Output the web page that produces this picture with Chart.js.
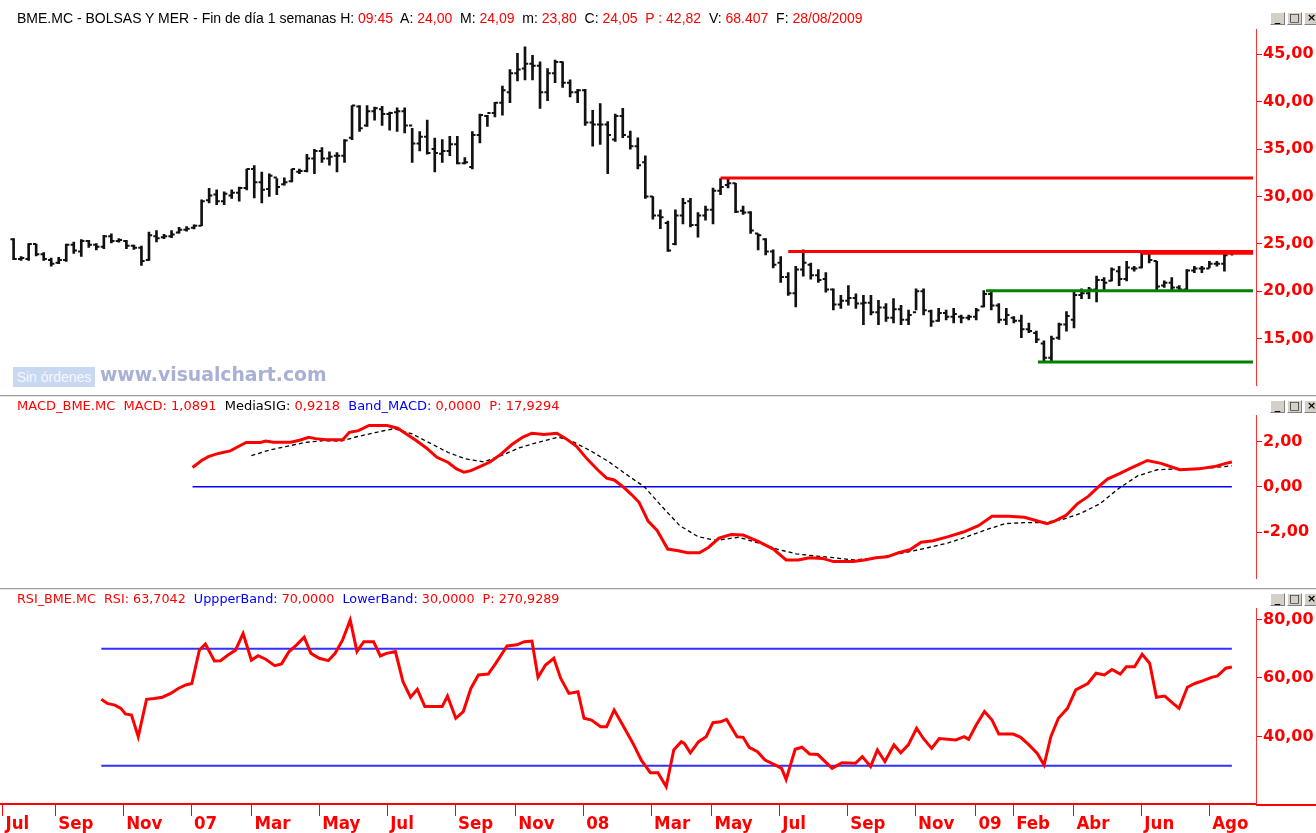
<!DOCTYPE html>
<html>
<head>
<meta charset="utf-8">
<script src="https://cdn.jsdelivr.net/npm/chart.js@4.4.0/dist/chart.umd.min.js"></script>
<style>
  body { margin:0; background:#fff; width:1316px; height:833px; overflow:hidden; position:relative; }
  canvas { position:absolute; left:0; }
  .hdr { position:absolute; left:17px; white-space:pre; color:#000; }
  .hdr.p { font:14px "Liberation Sans", Arial, sans-serif; top:10px; }
  .hdr.i { font:13px "DejaVu Sans", Verdana, sans-serif; }
  .r { color:#ff0000; } .b { color:#0000ff; }
  .sep { position:absolute; left:0; width:1316px; height:1px; background:#a0a0a0; border-bottom:1px solid #e4e4e4; }
  .win { position:absolute; left:1270px; width:60px; height:13px; white-space:nowrap; font-size:0; }
  .win span { display:inline-block; width:13px; height:11px; margin-right:2px; background:#d4d0c8; border:1px solid; border-color:#fff #808080 #808080 #fff;
              font:bold 11px "DejaVu Sans", sans-serif; line-height:10px; text-align:center; color:#000; vertical-align:top; }
  .wm1 { position:absolute; left:13px; top:367px; width:82px; height:20px; background:#c9d8f1; color:#f4f7ff;
         font:14px "Liberation Sans", Arial, sans-serif; line-height:20px; text-align:center; }
  .wm2 { position:absolute; left:100px; top:364px; color:#a9b0d6; font:bold 18.8px "DejaVu Sans", Verdana, sans-serif; }
</style>
</head>
<body>
<canvas id="cPrice" width="1316" height="396" style="top:0"></canvas>
<canvas id="cMacd" width="1316" height="193" style="top:396px"></canvas>
<canvas id="cRsi" width="1316" height="243" style="top:590px"></canvas>

<div class="hdr p">BME.MC - BOLSAS Y MER - Fin de día 1 semanas H: <span class="r">09:45</span>  A: <span class="r">24,00</span>  M: <span class="r">24,09</span>  m: <span class="r">23,80</span>  C: <span class="r">24,05</span>  <span class="r">P : 42,82</span>  V: <span class="r">68.407</span>  F: <span class="r">28/08/2009</span></div>
<div class="hdr i r" style="top:398px">MACD_BME.MC  MACD: 1,0891  <span style="color:#000">MediaSIG:</span> 0,9218  <span class="b">Band_MACD:</span> 0,0000  P: 17,9294</div>
<div class="hdr i r" style="top:591px;font-size:12.75px">RSI_BME.MC  RSI: 63,7042  <span class="b">UppperBand:</span> 70,0000  <span class="b">LowerBand:</span> 30,0000  P: 270,9289</div>

<div class="sep" style="top:395px"></div>
<div class="sep" style="top:588px"></div>

<div class="win" style="top:12px"><span>_</span><span>□</span><span>×</span></div>
<div class="win" style="top:400px"><span>_</span><span>□</span><span>×</span></div>
<div class="win" style="top:593px"><span>_</span><span>□</span><span>×</span></div>

<div class="wm1">Sin órdenes</div>
<div class="wm2">www.visualchart.com</div>

<script>
// weekly bars, BME.MC, Jul 2006 - Aug 2009
const highs = [25.55,23.67,25.04,24.97,24.08,23.5,23.57,24.97,25.2,25.45,25.38,25.04,25.9,26.07,25.55,25.38,24.87,24.77,26.24,26.41,
  26.0,26.41,26.75,26.82,27.0,29.66,30.86,30.69,30.5,30.69,31.0,32.9,33.27,32.57,32.4,31.9,31.96,32.9,32.9,34.46,
  34.97,35.15,34.7,34.63,36.0,39.6,39.6,39.6,39.43,39.5,38.9,39.36,39.36,37.2,36.86,38.06,36.17,36.0,36.35,36.35,
  34.1,36.86,38.7,38.57,39.94,41.65,43.4,45.1,45.8,44.9,44.2,43.5,44.4,44.2,42.3,41.3,41.3,39.1,39.8,37.9,
  38.7,39.3,36.9,36.2,34.3,30.0,28.6,27.4,28.6,29.8,29.8,28.3,29.0,30.9,31.9,31.9,31.4,29.0,28.4,26.07,
  25.55,24.36,23.67,21.96,22.64,24.36,22.98,22.3,21.96,20.25,19.56,20.59,19.73,19.56,19.56,19.05,18.7,19.22,18.53,18.02,
  20.25,20.25,18.02,18.19,18.02,18.19,17.5,17.5,18.19,20.07,20.07,18.7,18.19,17.33,17.5,16.65,15.79,14.76,15.28,16.65,
  17.85,20.07,20.25,20.42,21.6,21.44,22.47,22.64,23.15,22.64,24.02,24.02,23.15,21.1,21.44,20.59,22.3,22.64,22.64,23.15,
  23.15,24.0,24.09];
const lows = [23.33,23.26,23.26,23.74,23.26,22.64,22.9,23.15,24.0,23.67,24.63,24.35,24.5,25.1,25.18,24.5,24.42,22.74,23.26,25.21,
  25.55,25.65,26.14,26.34,26.58,26.92,29.32,29.15,29.15,29.8,29.5,30.7,29.84,29.32,30.0,30.2,31.2,31.55,32.4,32.6,
  32.4,33.6,33.3,32.6,33.6,36.0,36.86,37.4,38.06,37.5,37.0,36.86,36.7,33.6,34.8,34.46,32.6,33.6,34.3,33.43,
  33.43,32.9,35.66,37.4,38.4,38.57,39.9,42.2,42.3,42.3,39.3,40.1,42.0,41.5,40.5,39.9,37.5,35.3,35.5,32.4,
  35.8,36.2,35.0,32.9,29.8,27.6,26.6,24.2,24.9,27.1,26.8,25.7,27.5,27.1,30.2,30.9,28.3,28.1,26.1,24.36,
  23.84,22.47,20.93,19.56,18.36,21.6,21.27,20.93,19.9,18.02,18.19,18.53,18.19,16.47,17.5,16.47,16.82,16.65,16.47,16.47,
  18.02,17.5,16.3,16.82,16.99,16.65,16.65,16.99,16.99,18.36,18.02,16.65,16.47,16.65,15.1,15.62,14.59,12.53,12.53,14.93,
  15.79,16.13,19.22,19.22,18.87,20.07,21.1,20.59,21.1,22.13,22.47,23.0,20.07,20.42,20.07,20.07,20.07,21.96,21.96,22.47,
  22.64,22.13,23.8];
const opens = [25.5,23.4,23.4,25.0,23.9,23.3,23.0,23.3,24.9,24.2,25.3,24.9,24.7,25.8,25.3,25.3,24.8,24.6,23.3,25.8,
  25.7,25.8,26.2,26.5,26.7,26.9,29.6,30.2,29.5,30.1,30.4,30.9,32.9,31.5,30.8,32.0,31.3,31.6,32.6,32.7,
  34.0,34.8,34.0,34.3,34.3,36.2,39.5,37.5,39.0,39.2,38.7,38.9,39.0,37.5,35.6,36.3,35.0,34.5,34.8,35.5,
  33.5,33.1,36.5,38.5,38.8,39.9,41.0,43.0,43.5,44.0,43.8,41.0,43.0,44.2,42.0,41.0,41.2,37.8,37.6,37.6,
  36.0,38.5,36.3,35.3,33.6,30.0,28.0,27.2,25.0,28.0,29.5,27.0,28.0,28.6,30.6,31.2,31.4,28.5,28.3,26.1,
  25.5,24.2,23.0,21.5,19.8,22.3,22.8,21.7,21.3,20.2,18.6,19.0,19.3,18.7,18.8,17.8,18.3,17.2,18.1,17.0,
  17.8,20.0,17.9,16.9,17.7,17.3,17.3,17.2,17.3,18.4,19.7,18.5,17.0,17.2,16.9,16.0,15.6,14.5,13.0,15.1,
  16.5,17.0,19.6,19.8,20.2,21.2,21.1,22.1,21.3,22.4,22.5,24.0,23.2,20.6,20.9,20.4,20.2,22.2,22.4,22.4,
  22.9,22.9,24.0];
const closes = [23.4,23.5,25.0,23.9,23.4,22.9,23.3,24.9,24.3,25.3,24.9,24.7,25.8,25.3,25.4,24.8,24.6,23.2,25.9,25.6,
  25.8,26.0,26.5,26.6,26.9,29.5,30.1,29.5,30.3,30.4,30.9,32.9,31.5,30.7,32.2,31.0,31.5,32.9,32.7,34.0,
  34.8,34.0,34.2,34.3,35.9,39.6,37.2,39.0,39.3,38.7,38.8,39.0,37.5,35.6,36.3,34.6,34.6,34.8,35.5,33.5,
  33.6,36.5,38.6,38.8,39.9,41.2,43.0,43.4,44.0,43.8,41.0,43.0,44.2,42.0,41.0,41.2,37.8,37.6,37.6,36.5,
  38.5,36.5,35.3,33.3,30.0,28.0,27.8,24.3,28.0,29.3,27.0,28.0,28.6,30.6,31.0,31.4,28.4,28.3,26.4,25.9,
  24.2,22.8,21.5,19.8,22.3,23.0,21.7,21.2,20.2,18.6,19.0,19.3,18.7,18.8,17.8,18.3,17.2,18.1,17.0,17.5,
  20.0,18.0,16.8,17.7,17.3,17.6,17.2,17.3,18.0,19.7,18.5,17.0,17.5,16.9,16.0,15.8,14.9,13.0,15.0,16.5,
  17.4,19.6,19.8,20.2,21.2,20.9,22.3,21.3,22.5,22.4,24.0,23.3,20.5,20.9,20.4,20.2,22.2,22.4,22.4,22.9,
  22.9,23.8,24.05];

// hand-drawn support / resistance lines: level and starting week
const lineLevel = [31.95, 24.2, 24.0, 20.05, 12.55];
const lineStart = [94, 103, 150, 129.3, 136.2];
const lineEnd = 164.8;

// MACD, signal (MediaSIG), read at week positions
const macdAt = [24.2,25.4,26.3,27.3,28.2,29.2,30.1,31.3,33.2,33.9,34.9,37.2,38.4,39.6,40.5,41.9,44.1,45.0,46.2,47.6,
  50.0,51.4,52.4,53.8,55.2,56.6,58.1,59.2,60.2,61.1,62.3,63.7,65.1,66.5,68.0,69.2,70.8,72.5,73.7,75.1,
  76.5,77.9,79.1,80.1,81.3,82.4,83.4,84.6,85.8,87.2,88.6,89.8,91.4,92.6,94.0,95.6,97.2,99.2,101.2,102.9,
  104.5,106.0,107.7,109.2,111.8,113.3,114.8,116.3,117.8,119.3,120.8,122.4,124.4,126.4,128.4,130.2,132.4,134.5,136.0,137.5,
  138.5,140.0,141.5,143.0,144.3,145.5,147.1,148.6,150.8,152.6,155.1,157.6,159.7,161.2,162.0];
const macdVal = [0.85,1.16,1.33,1.44,1.51,1.58,1.74,1.95,1.95,2.01,1.96,1.96,2.05,2.18,2.12,2.07,2.07,2.4,2.47,2.7,
  2.7,2.58,2.36,2.05,1.71,1.3,1.07,0.79,0.64,0.71,0.89,1.1,1.44,1.85,2.19,2.36,2.3,2.36,2.12,1.78,
  1.23,0.75,0.38,0.3,0.0,-0.34,-0.68,-1.51,-1.92,-2.74,-2.81,-2.9,-2.9,-2.67,-2.26,-2.1,-2.12,-2.4,-2.74,-3.22,
  -3.22,-3.12,-3.15,-3.29,-3.29,-3.22,-3.12,-3.08,-2.9,-2.77,-2.44,-2.37,-2.19,-1.99,-1.71,-1.3,-1.3,-1.34,-1.48,-1.62,
  -1.51,-1.26,-0.75,-0.41,0.0,0.34,0.58,0.82,1.16,1.03,0.75,0.79,0.89,1.03,1.09];
const sigAt = [32.0,34.4,36.7,39.1,41.5,43.8,46.2,48.6,50.9,53.3,55.7,58.1,60.4,62.8,65.1,67.5,69.9,72.7,74.6,77.0,
  79.4,81.7,84.1,86.5,88.8,91.2,93.6,96.6,99.2,101.7,104.2,106.7,109.2,111.8,114.3,116.8,119.3,121.8,124.4,126.9,
  129.4,131.9,134.4,136.9,139.5,142.0,144.5,147.0,149.5,152.1,154.6,157.1,159.6,162.0];
const sigVal = [1.37,1.62,1.78,1.95,2.03,2.01,2.22,2.4,2.56,2.33,1.92,1.51,1.23,1.1,1.37,1.71,1.95,2.19,1.99,1.58,
  1.1,0.55,0.0,-0.89,-1.71,-2.19,-2.36,-2.22,-2.47,-2.74,-2.95,-3.04,-3.12,-3.22,-3.15,-3.01,-2.85,-2.67,-2.47,-2.19,
  -1.89,-1.62,-1.58,-1.58,-1.44,-1.16,-0.75,-0.07,0.48,0.75,0.79,0.79,0.85,0.92];

// RSI read at week positions
const rsiAt = [12.1,12.9,13.9,14.7,15.3,16.1,17.0,18.1,19.1,20.2,21.3,22.3,23.3,24.1,25.1,25.9,27.1,27.9,28.9,29.9,
  30.9,32.0,32.9,33.9,35.1,36.0,37.0,38.0,39.0,39.9,41.0,42.2,43.1,44.1,45.1,46.0,46.9,48.2,49.1,49.9,
  51.1,52.1,53.1,54.0,55.0,57.3,58.0,59.1,60.1,61.1,62.1,63.4,64.4,65.9,67.2,68.2,69.2,70.0,71.0,72.1,
  73.0,74.1,75.3,76.1,77.1,78.3,79.1,80.1,81.1,82.6,83.7,84.9,85.9,87.0,88.0,89.0,89.4,90.2,91.3,92.3,
  93.2,94.2,95.0,96.4,97.2,98.0,99.1,100.1,101.5,102.3,102.9,104.1,105.0,106.0,107.1,109.0,110.3,112.1,113.0,114.1,
  115.0,116.0,117.2,118.1,119.1,120.2,121.1,122.2,123.2,125.4,126.5,127.1,128.1,129.2,130.2,131.1,133.0,134.0,135.1,136.2,
  137.1,138.0,139.0,140.2,141.3,142.9,144.0,145.1,146.1,147.2,148.0,149.1,150.1,151.1,152.0,153.1,154.2,155.0,156.1,157.1,
  158.2,159.3,160.1,161.2,162.0];
const rsiVal = [52.7,51.3,50.7,49.6,47.7,47.3,39.9,52.7,53.0,53.4,54.7,56.4,57.6,58.1,69.5,71.6,65.8,65.9,67.8,69.5,
  75.2,66.1,67.6,66.4,64.2,64.8,69.0,71.3,73.9,68.4,66.7,65.9,68.4,73.0,79.8,69.0,72.4,72.4,67.5,68.4,
  69.0,58.7,53.4,56.1,50.2,50.2,53.8,46.2,48.5,56.4,61.0,61.3,65.0,70.9,71.3,72.4,72.6,60.2,64.4,66.7,
  59.9,54.7,55.3,46.2,45.6,43.3,43.3,49.0,44.5,37.6,31.9,27.6,27.6,22.8,35.4,38.2,37.6,34.4,38.2,39.9,
  44.7,45.0,45.8,39.9,39.7,36.3,34.8,31.9,30.2,29.1,25.3,35.6,36.3,34.0,33.8,29.1,31.0,30.8,33.1,29.7,
  35.4,31.4,37.1,34.4,37.1,42.8,39.3,35.9,39.3,38.8,39.9,39.0,43.9,48.5,45.6,40.8,40.8,39.7,37.1,34.2,
  30.2,39.9,46.2,49.6,55.9,58.1,61.6,61.0,62.9,61.3,63.8,63.8,68.1,65.0,53.4,53.8,51.3,49.6,56.8,58.1,
  59.1,60.2,60.7,63.3,63.7];
const rsiBands = [70, 30];

const priceTicks = [15, 20, 25, 30, 35, 40, 45];
const macdTicks = [2, 0, -2];
const rsiTicks = [80, 60, 40];

// month ticks on the time axis (week index where the label sits)
const monthAt = [-1, 6, 15, 24, 32, 41, 50, 59, 67, 76, 85, 93, 102, 111, 120, 128, 133, 141, 150, 159];
const monthLabels = ['Jul','Sep','Nov','07','Mar','May','Jul','Sep','Nov','08','Mar','May','Jul','Sep','Nov','09','Feb','Abr','Jun','Ago'];

const XMIN = -1.33, XMAX = 165.2;
const RED = '#ff0000';
const fmt = v => v.toFixed(2).replace('.', ',');
const pts = (xs, ys) => xs.map((x, i) => ({ x, y: ys[i] }));

const xHidden = { type: 'linear', min: XMIN, max: XMAX, offset: false, display: false };
const yRight = (min, max, ticks) => ({
  position: 'right', min, max,
  afterFit: s => { s.width = 60; },
  afterBuildTicks: s => { s.ticks = ticks.map(v => ({ value: v })); },
  grid: { drawOnChartArea: false, tickLength: 6, tickColor: RED, color: RED },
  border: { color: '#ff3030', width: 1 },
  ticks: { color: RED, padding: 1, font: { family: 'DejaVu Sans', weight: 'bold', size: 16 }, callback: v => fmt(v) }
});
const base = (pad, scales) => ({
  responsive: false, animation: false, events: [],
  layout: { padding: pad },
  plugins: { legend: { display: false }, tooltip: { enabled: false } },
  scales
});
const lineDs = (data, color, width, extra) => Object.assign({
  type: 'line', data, borderColor: color, borderWidth: width, pointRadius: 0, fill: false, tension: 0
}, extra || {});

// price panel
const levelSets = lineLevel.map((lv, k) => lineDs(
  [{ x: lineStart[k], y: lv }, { x: lineEnd, y: lv }], k < 3 ? '#ff0000' : '#008000', 3));
const tickSet = (vals, dx) => ({
  type: 'scatter', data: vals.map((v, i) => ({ x: i + dx, y: v })),
  pointStyle: 'line', pointRadius: 1.6, pointBorderWidth: 2, pointBorderColor: '#111', pointHoverRadius: 0
});
new Chart(document.getElementById('cPrice'), {
  type: 'bar',
  data: { datasets: [
    ...levelSets,
    tickSet(opens, -0.21),
    tickSet(closes, 0.21),
    { type: 'bar', data: highs.map((h, i) => ({ x: i, y: [lows[i], h] })), backgroundColor: '#111', barThickness: 2, grouped: false }
  ] },
  options: base({ top: 29, bottom: 1, left: 0, right: 0 }, { x: xHidden, y: yRight(10.07, 47.67, priceTicks) })
});

// MACD panel
new Chart(document.getElementById('cMacd'), {
  type: 'line',
  data: { datasets: [
    lineDs(pts(macdAt, macdVal), RED, 3),
    lineDs(pts(sigAt, sigVal), '#000', 1.3, { borderDash: [4, 3] }),
    lineDs([{ x: macdAt[0], y: 0 }, { x: macdAt[macdAt.length - 1], y: 0 }], '#0000ff', 1.5)
  ] },
  options: base({ top: 19, bottom: 1, left: 0, right: 0 }, { x: xHidden, y: yRight(-4.03, 3.16, macdTicks) })
});

// RSI panel with the time axis
const axisTail = {
  id: 'axisTail',
  afterDraw(c) {
    const { ctx, chartArea } = c;
    ctx.save();
    ctx.strokeStyle = RED; ctx.lineWidth = 2;
    ctx.beginPath(); ctx.moveTo(chartArea.right, chartArea.bottom + 1); ctx.lineTo(c.width, chartArea.bottom + 1); ctx.stroke();
    ctx.restore();
  }
};
const rsiEnd = rsiAt[rsiAt.length - 1];
new Chart(document.getElementById('cRsi'), {
  type: 'line',
  data: { datasets: [
    lineDs(pts(rsiAt, rsiVal), RED, 3),
    ...rsiBands.map(b => lineDs([{ x: rsiAt[0], y: b }, { x: rsiEnd, y: b }], '#3030ff', 2))
  ] },
  options: base({ top: 18, bottom: 0, left: 0, right: 0 }, {
    x: {
      type: 'linear', min: XMIN, max: XMAX, position: 'bottom', offset: false,
      afterFit: s => { s.height = 29; },
      afterBuildTicks: s => { s.ticks = monthAt.map(v => ({ value: v })); },
      grid: { drawOnChartArea: false, tickLength: 12, tickColor: RED, color: RED },
      border: { color: RED, width: 2 },
      ticks: { autoSkip: false, maxRotation: 0, minRotation: 0, align: 'start', labelOffset: 3, padding: -3, color: RED,
               font: { family: 'DejaVu Sans Condensed', weight: 'bold', size: 18.5 }, callback: (v, i) => monthLabels[i] }
    },
    y: yRight(16.9, 83.9, rsiTicks)
  }),
  plugins: [axisTail]
});
</script>
</body>
</html>
